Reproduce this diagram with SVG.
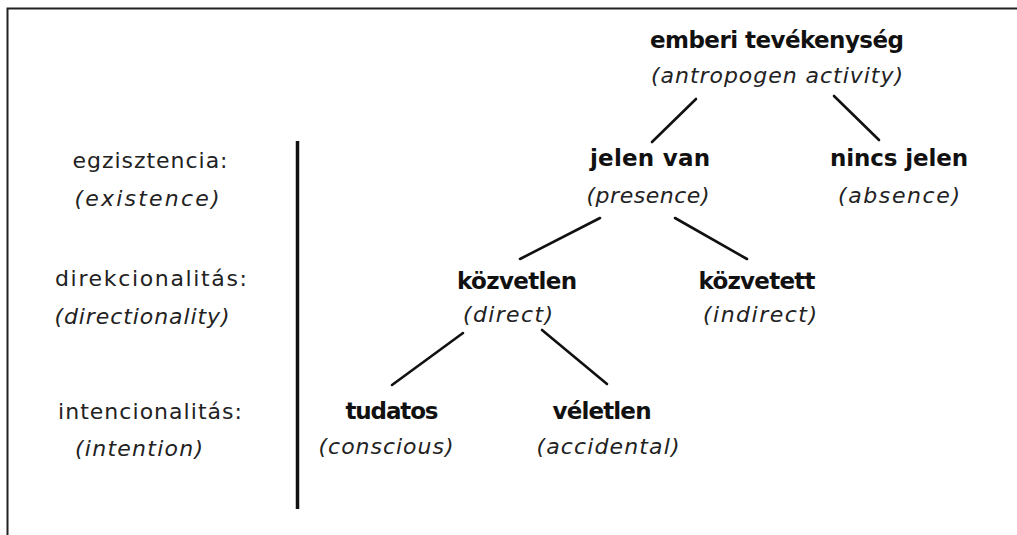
<svg xmlns="http://www.w3.org/2000/svg" width="1017" height="535" viewBox="0 0 1017 535">
<style>
text{font-family:"DejaVu Sans","Liberation Sans",sans-serif;fill:#111;text-anchor:middle}
.b{font-weight:bold;font-size:23px}
.i{font-style:italic;font-size:22px;fill:#222}
.r{font-size:22px;fill:#222}
.c{stroke:#111;stroke-width:2.6;stroke-linecap:round;fill:none}
</style>
<rect width="1017" height="535" fill="#fff"/>
<path d="M7.5,540 V8.5 H1020" fill="none" stroke="#222" stroke-width="2"/>
<line x1="297.5" y1="141" x2="297.5" y2="509" stroke="#111" stroke-width="3.5"/>
<g id="levels">
<text class="r" x="150" y="168" textLength="155" lengthAdjust="spacing">egzisztencia:</text>
<text class="i" x="147" y="206" textLength="145" lengthAdjust="spacing">(existence)</text>
<text class="r" x="151" y="286" textLength="192" lengthAdjust="spacing">direkcionalitás:</text>
<text class="i" x="142" y="324" textLength="175" lengthAdjust="spacing">(directionality)</text>
<text class="r" x="150" y="419" textLength="184" lengthAdjust="spacing">intencionalitás:</text>
<text class="i" x="139" y="456" textLength="128" lengthAdjust="spacing">(intention)</text>
</g>
<g id="connectors">
<line class="c" x1="696" y1="99" x2="652" y2="142"/>
<line class="c" x1="834" y1="96" x2="879" y2="140"/>
<line class="c" x1="600" y1="218" x2="520" y2="259"/>
<line class="c" x1="675" y1="218" x2="747" y2="259"/>
<line class="c" x1="463" y1="333" x2="392" y2="385"/>
<line class="c" x1="542" y1="330" x2="607" y2="384"/>
</g>
<g id="root">
<text class="b" x="777" y="48" textLength="254" lengthAdjust="spacing">emberi tevékenység</text>
<text class="i" x="777" y="83" textLength="252" lengthAdjust="spacing">(antropogen activity)</text>
</g>
<g id="presence">
<text class="b" x="650" y="166" textLength="120" lengthAdjust="spacing">jelen van</text>
<text class="i" x="648" y="203" textLength="123" lengthAdjust="spacing">(presence)</text>
</g>
<g id="absence">
<text class="b" x="899" y="166" textLength="138" lengthAdjust="spacing">nincs jelen</text>
<text class="i" x="899" y="203" textLength="122" lengthAdjust="spacing">(absence)</text>
</g>
<g id="direct">
<text class="b" x="517" y="289" textLength="120" lengthAdjust="spacing">közvetlen</text>
<text class="i" x="508" y="322" textLength="90" lengthAdjust="spacing">(direct)</text>
</g>
<g id="indirect">
<text class="b" x="757" y="289" textLength="117" lengthAdjust="spacing">közvetett</text>
<text class="i" x="760" y="322" textLength="114" lengthAdjust="spacing">(indirect)</text>
</g>
<g id="conscious">
<text class="b" x="392" y="419" textLength="93" lengthAdjust="spacing">tudatos</text>
<text class="i" x="386" y="454" textLength="135" lengthAdjust="spacing">(conscious)</text>
</g>
<g id="accidental">
<text class="b" x="602" y="419" textLength="99" lengthAdjust="spacing">véletlen</text>
<text class="i" x="608" y="454" textLength="143" lengthAdjust="spacing">(accidental)</text>
</g>
</svg>
